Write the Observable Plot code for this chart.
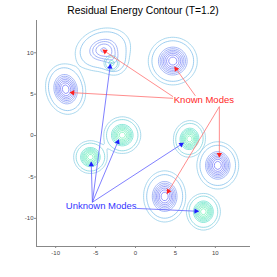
<!DOCTYPE html>
<html><head><meta charset="utf-8">
<script src="https://cdn.jsdelivr.net/npm/d3@7"></script>
<script src="https://cdn.jsdelivr.net/npm/@observablehq/plot@0.6"></script>
<style>
body{margin:0;background:#fff;}
#title{font-family:"Liberation Sans",Arial,sans-serif;font-size:10.3px;height:20px;line-height:22px;margin-left:36px;width:214px;text-align:center;color:#000;white-space:nowrap;}
</style></head><body>
<div id="title">Residual Energy Contour (T=1.2)</div>
<div id="chart"></div>
<script>
// Mode parameters
const modeKind  = ["known","known","known","known","known","known","unknown","unknown","unknown","unknown","unknown"];
const modeX     = [-8.75, -4.1, -2.6, 4.67, 10.3, 3.65, -3.0, -5.65, -1.66, 6.75, 8.5];
const modeY     = [5.6, 10.4, 8.9, 9.0, -3.6, -7.35, 8.75, -2.6, 0.05, -0.4, -9.2];
const modeSx    = [1.04, 1.6, 0.9, 1.29, 1.1, 1.11, 0.45, 0.88, 0.97, 0.84, 0.89];
const modeSy    = [1.29, 1.15, 0.9, 1.21, 1.2, 1.3, 0.45, 0.83, 0.93, 0.93, 0.93];
const modeAngle = [15, 15, 0, 0, 0, 0, 0, 0, 0, -12, 0];
const modeAmp   = [1, 0.65, 0.25, 1, 1, 1, 0.5, 1, 1, 1, 1];
const levels = [0.06, 0.13, 0.38, 0.47, 0.56, 0.65, 0.74, 0.83, 0.92];
const unknownOffset = 10; // separates the two families on the colour scale

// Annotation arrows
const knownFromX = [4.7, 4.7, 7.5, 10.5, 10.5];
const knownFromY = [4.5, 4.7, 4.8, 3.5, 3.5];
const knownToX   = [-8.2, -4.1, 4.9, 10.5, 3.95];
const knownToY   = [5.2, 10.35, 8.3, -2.6, -7.0];
const unknownFromX = [-5.4, -5.4, -5.4, -5.4, 0.1];
const unknownFromY = [-8.05, -8.05, -8.05, -8.05, -8.8];
const unknownToX   = [-5.55, -2.1, -3.15, 6.0, 7.9];
const unknownToY   = [-3.2, -0.5, 8.6, -0.9, -9.15];
const labelText = ["Known Modes", "Unknown Modes"];
const labelX = [8.56, -4.3];
const labelY = [4.35, -8.5];
const xTicks = [-10, -5, 0, 5, 10];
const yTicks = [-10, -5, 0, 5, 10];

const W = 277, H = 257, ML = 36, MR = 27, MT = 0, MB = 31;
const xDomain = [-12.4, 14.4], yDomain = [-13.4, 13.9];
const kx = (W - ML - MR) / (xDomain[1] - xDomain[0]);
const ky = (H - MT - MB) / (yDomain[1] - yDomain[0]);

function field(kind, offset) {
  const idx = modeKind.map((k, i) => k === kind ? i : -1).filter(i => i >= 0);
  return (x, y) => {
    let s = 0;
    for (const i of idx) {
      const a = modeAngle[i] * Math.PI / 180;
      const dx = x - modeX[i], dy = y - modeY[i];
      const u = dx * Math.cos(a) + dy * Math.sin(a);
      const v = -dx * Math.sin(a) + dy * Math.cos(a);
      s += modeAmp[i] * Math.exp(-0.5 * ((u / modeSx[i]) ** 2 + (v / modeSy[i]) ** 2));
    }
    return offset + s;
  };
}

function arrows(fx, fy, tx, ty) {
  return fx.map((_, i) => {
    const sx = (tx[i] - fx[i]) * kx, sy = -(ty[i] - fy[i]) * ky;
    const len = Math.hypot(sx, sy);
    const back = 2.6;
    return {
      x1: fx[i], y1: fy[i], x2: tx[i], y2: ty[i],
      hx: tx[i] - (sx / len) * back / kx,
      hy: ty[i] + (sy / len) * back / ky,
      angle: Math.atan2(sx, -sy) * 180 / Math.PI
    };
  });
}
const knownArrows = arrows(knownFromX, knownFromY, knownToX, knownToY);
const unknownArrows = arrows(unknownFromX, unknownFromY, unknownToX, unknownToY);

const knownThresholds = levels.slice();
const unknownThresholds = levels.map(l => l + unknownOffset);

const plot = Plot.plot({
  width: W, height: H,
  marginLeft: ML, marginRight: MR, marginTop: MT, marginBottom: MB,
  style: {fontFamily: "Liberation Sans, Arial, sans-serif", fontSize: "6px", background: "#fff", overflow: "visible"},
  x: {domain: xDomain},
  y: {domain: yDomain},
  color: {
    type: "linear",
    domain: [0.06, 0.13, 0.38, 0.92, 10.06, 10.13, 10.38, 10.92],
    range: ["#84c6e6", "#72b8ea", "#8098f2", "#6468fa", "#84c8e2", "#6ccdd8", "#5adec8", "#64f0b0"]
  },
  marks: [
    Plot.contour({
      value: field("known", 0),
      x1: xDomain[0], x2: xDomain[1], y1: yDomain[0], y2: yDomain[1],
      thresholds: knownThresholds, fill: "none", stroke: "value", strokeWidth: 0.7
    }),
    Plot.contour({
      value: field("unknown", unknownOffset),
      x1: xDomain[0], x2: xDomain[1], y1: yDomain[0], y2: yDomain[1],
      thresholds: unknownThresholds, fill: "none", stroke: "value", strokeWidth: 0.7
    }),
    Plot.ruleX([xDomain[0]], {stroke: "#888", strokeWidth: 1}),
    Plot.ruleY([yDomain[0]], {stroke: "#888", strokeWidth: 1}),
    Plot.axisX({ticks: xTicks, tickSize: 2, tickPadding: 2, tickFormat: d => String(d), stroke: "#888", fill: "#444", label: null}),
    Plot.axisY({ticks: yTicks, tickSize: 2, tickPadding: 1, tickFormat: d => String(d), stroke: "#888", fill: "#444", label: null}),
    Plot.link(knownArrows, {x1: "x1", y1: "y1", x2: "x2", y2: "y2", stroke: "#ff7070", strokeWidth: 0.8}),
    Plot.link(unknownArrows, {x1: "x1", y1: "y1", x2: "x2", y2: "y2", stroke: "#6060ff", strokeWidth: 0.8}),
    Plot.dot(knownArrows, {x: "hx", y: "hy", symbol: "triangle", r: 2, rotate: "angle", fill: "#ff2020", stroke: null}),
    Plot.dot(unknownArrows, {x: "hx", y: "hy", symbol: "triangle", r: 2, rotate: "angle", fill: "#2020ff", stroke: null}),
    Plot.text([0], {x: labelX[0], y: labelY[0], text: () => labelText[0], fill: "#ff2828", fontSize: 9.5}),
    Plot.text([0], {x: labelX[1], y: labelY[1], text: () => labelText[1], fill: "#3535ff", fontSize: 9.5})
  ]
});
document.getElementById("chart").appendChild(plot);
</script>
</body></html>
